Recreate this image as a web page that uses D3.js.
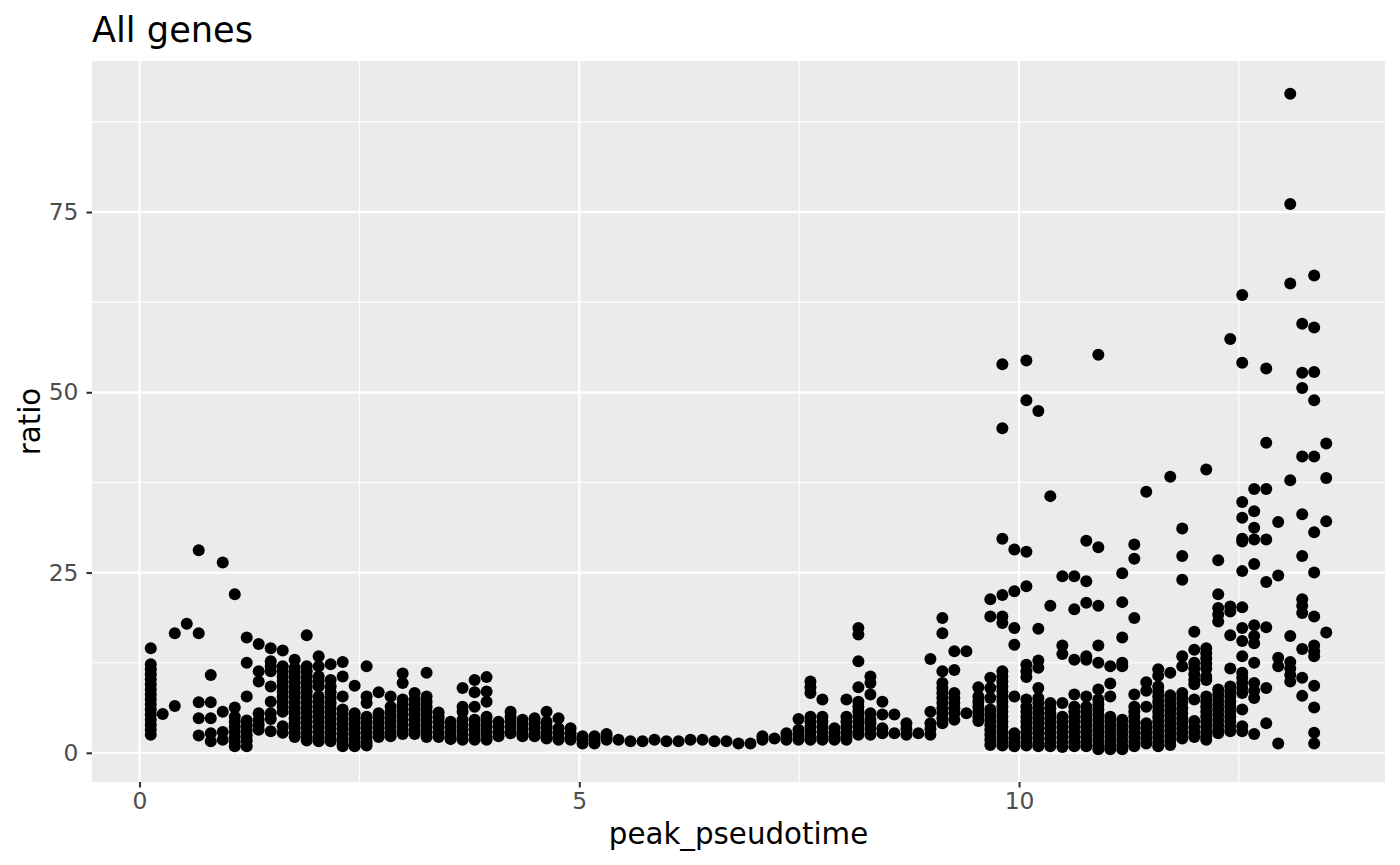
<!DOCTYPE html>
<html>
<head>
<meta charset="utf-8">
<script src="https://cdn.jsdelivr.net/npm/d3@7"></script>
<style>
  body { margin: 0; background: #ffffff; }
  svg { display: block; font-family: "DejaVu Sans", sans-serif; }
</style>
</head>
<body>
<div id="chart"></div>
<script>
// one x value per column of points (peak pseudotime bins)
var peakPseudotime = [
  0.128, 0.264, 0.401, 0.537, 0.673, 0.810, 0.946, 1.083, 1.219, 1.355,
  1.492, 1.628, 1.764, 1.901, 2.037, 2.173, 2.310, 2.446, 2.582, 2.719,
  2.855, 2.992, 3.128, 3.264, 3.401, 3.537, 3.673, 3.810, 3.946, 4.082,
  4.219, 4.355, 4.492, 4.628, 4.764, 4.901, 5.037, 5.173, 5.310, 5.446,
  5.582, 5.719, 5.855, 5.991, 6.128, 6.264, 6.401, 6.537, 6.673, 6.810,
  6.946, 7.082, 7.219, 7.355, 7.492, 7.628, 7.764, 7.901, 8.037, 8.173,
  8.310, 8.446, 8.582, 8.719, 8.855, 8.992, 9.128, 9.264, 9.401, 9.537,
  9.673, 9.810, 9.946, 10.083, 10.219, 10.355, 10.492, 10.628, 10.764, 10.901,
  11.037, 11.173, 11.310, 11.446, 11.582, 11.719, 11.855, 11.992, 12.128, 12.264,
  12.401, 12.537, 12.673, 12.810, 12.946, 13.083, 13.219, 13.355, 13.492
];

// ratio values for each column above (same order)
var ratios = [
  [14.5, 12.3, 11.6, 10.9, 10.2, 9.5, 8.8, 8.1, 7.4, 6.7, 6.0, 5.3, 4.6, 3.9, 3.2, 2.5],
  [5.4],
  [16.6, 6.5],
  [17.9],
  [28.1, 16.6, 7.0, 4.8, 2.4],
  [10.8, 7.0, 4.8, 2.7, 1.6],
  [26.4, 5.7, 2.9, 1.8],
  [22.0, 6.3, 5.0, 4.3, 3.6, 2.9, 2.2, 1.5, 0.9],
  [16.0, 12.5, 7.8, 4.5, 3.8, 3.1, 2.4, 1.7, 0.9],
  [15.1, 11.3, 9.9, 5.5, 4.6, 3.9, 3.2],
  [14.5, 12.7, 12.0, 11.3, 9.2, 7.1, 5.5, 4.7, 3.0],
  [14.2, 12.0, 11.3, 10.6, 9.9, 9.2, 8.5, 7.8, 7.1, 6.4, 5.7, 3.7, 2.8],
  [12.9, 11.8, 11.1, 10.4, 9.7, 9.0, 8.3, 7.6, 6.9, 6.2, 5.5, 4.8, 4.1, 3.4, 2.7, 2.2],
  [16.3, 12.0, 11.3, 10.6, 9.9, 9.2, 8.5, 7.8, 7.1, 6.4, 5.7, 5.0, 4.3, 3.6, 2.9, 2.2, 1.7],
  [13.4, 12.0, 10.6, 9.9, 9.2, 7.8, 7.1, 6.4, 5.7, 5.0, 4.3, 3.6, 2.9, 2.2, 1.6],
  [12.3, 10.1, 9.2, 8.4, 7.6, 6.9, 6.2, 5.5, 4.8, 4.1, 3.4, 2.7, 2.0, 1.6],
  [12.6, 10.6, 7.8, 6.0, 5.3, 4.6, 3.9, 3.2, 2.5, 1.8, 1.2, 0.9],
  [9.3, 5.5, 4.8, 4.1, 3.4, 2.7, 2.0, 1.4, 0.9],
  [12.0, 7.8, 6.9, 5.0, 4.3, 3.6, 2.9, 2.2, 1.5, 1.0],
  [8.4, 5.5, 4.8, 4.1, 3.4, 2.7, 2.2],
  [7.8, 6.4, 5.7, 5.0, 4.3, 3.6, 2.9, 2.3],
  [11.0, 9.7, 7.4, 6.7, 6.0, 5.3, 4.6, 3.9, 3.2, 2.6],
  [8.3, 7.4, 6.7, 6.0, 5.3, 4.6, 3.9, 3.2, 2.6],
  [11.1, 7.8, 7.1, 6.4, 5.7, 5.0, 4.3, 3.6, 2.9, 2.2],
  [5.6, 4.9, 4.2, 3.5, 2.8, 2.2],
  [4.3, 3.6, 2.9, 2.2, 1.9],
  [9.0, 6.4, 5.7, 4.6, 3.9, 3.2, 2.5, 1.8],
  [10.1, 8.4, 6.4, 4.6, 3.9, 3.2, 2.5, 1.8],
  [10.5, 8.5, 7.1, 5.0, 4.3, 3.6, 2.9, 2.2, 1.8],
  [4.3, 3.6, 2.9, 2.3],
  [5.7, 5.0, 4.3, 3.6, 2.9, 2.7],
  [4.6, 3.9, 3.2, 2.5, 2.3],
  [4.8, 4.1, 3.4, 2.7, 2.3],
  [5.7, 4.3, 3.6, 2.9, 2.2, 2.0],
  [4.8, 3.4, 2.7, 2.1, 1.8],
  [3.4, 2.7, 2.1, 1.8],
  [2.3, 1.8, 1.3],
  [2.3, 1.8, 1.3],
  [2.6, 2.2, 1.8],
  [1.8],
  [1.6],
  [1.6],
  [1.8],
  [1.6],
  [1.6],
  [1.8],
  [1.8],
  [1.6],
  [1.6],
  [1.3],
  [1.3],
  [2.3, 1.8],
  [2.0],
  [2.7, 2.2, 1.8],
  [4.7, 3.2, 2.5, 1.8],
  [9.9, 9.1, 8.3, 5.0, 4.3, 3.6, 2.9, 2.2, 1.8],
  [7.4, 5.0, 4.3, 3.6, 2.9, 2.2, 1.8],
  [3.4, 2.7, 2.2, 1.8],
  [7.4, 5.0, 4.3, 3.6, 2.9, 2.2, 1.8],
  [17.3, 16.4, 12.7, 9.1, 7.1, 6.4, 5.7, 5.0, 4.3, 3.6, 2.9, 2.5],
  [10.6, 9.7, 8.1, 5.5, 4.6, 4.1, 3.3, 2.5],
  [7.1, 5.3, 3.4, 2.7],
  [5.3, 2.7],
  [4.1, 3.3, 2.5],
  [2.7],
  [13.0, 5.7, 4.1, 3.3, 2.5],
  [18.7, 16.6, 11.3, 9.7, 9.0, 8.3, 7.6, 6.9, 6.2, 5.5, 4.8, 4.1],
  [14.1, 11.5, 8.3, 7.6, 6.9, 6.2, 5.5, 4.6],
  [14.1, 5.5],
  [9.1, 7.8, 7.1, 6.4, 5.7, 5.0, 4.4],
  [21.3, 18.9, 10.4, 9.0, 7.6, 6.0, 5.3, 4.6, 3.9, 3.2, 2.5, 1.8, 1.1],
  [53.9, 45.0, 29.7, 21.9, 18.9, 18.0, 11.3, 10.6, 9.9, 9.2, 8.5, 7.8, 7.1, 6.4, 5.7, 5.0, 4.3, 3.6, 2.9, 2.2, 1.5, 1.0],
  [28.2, 22.4, 17.3, 15.0, 7.8, 2.7, 2.0, 1.4, 0.9],
  [54.4, 48.9, 27.9, 23.1, 12.2, 11.3, 10.5, 7.4, 6.4, 5.7, 5.0, 4.3, 3.6, 2.9, 2.2, 1.5, 1.0],
  [47.4, 17.2, 12.8, 11.8, 9.0, 7.6, 6.9, 6.2, 5.5, 4.8, 4.1, 3.4, 2.7, 2.0, 1.3, 0.9],
  [35.6, 20.4, 6.9, 6.2, 5.5, 4.8, 4.1, 3.4, 2.7, 2.0, 1.3, 0.9],
  [24.5, 14.9, 13.7, 6.9, 5.0, 4.3, 3.6, 2.9, 2.2, 1.5, 0.8],
  [24.5, 19.9, 12.9, 8.1, 6.4, 5.7, 5.0, 4.3, 3.6, 2.9, 2.2, 1.5, 0.9],
  [29.4, 23.8, 20.8, 13.4, 12.9, 7.8, 6.4, 5.7, 5.0, 4.3, 3.6, 2.9, 2.2, 1.5, 0.9],
  [55.2, 28.5, 20.4, 14.9, 12.5, 8.8, 7.4, 6.7, 6.0, 5.3, 4.6, 3.9, 3.2, 2.5, 1.8, 1.1, 0.5],
  [12.0, 9.6, 7.8, 5.0, 4.3, 3.6, 2.9, 2.2, 1.5, 0.9, 0.5],
  [24.9, 20.9, 16.0, 12.5, 12.0, 4.6, 3.9, 3.2, 2.5, 1.8, 1.1, 0.5],
  [28.9, 26.9, 18.7, 8.1, 6.4, 5.7, 5.0, 4.3, 3.6, 2.9, 2.2, 1.5, 0.9],
  [36.2, 9.8, 8.6, 6.4, 4.1, 3.4, 2.7, 2.0, 1.3],
  [11.6, 10.7, 9.2, 8.5, 7.8, 7.1, 6.4, 5.7, 5.0, 4.3, 3.6, 2.9, 2.2, 1.5, 0.9],
  [38.3, 11.1, 8.0, 7.3, 6.6, 5.9, 5.2, 4.5, 3.8, 3.1, 2.4, 1.7, 1.1],
  [31.1, 27.3, 24.0, 13.4, 12.0, 8.3, 7.6, 6.9, 6.2, 5.5, 4.8, 4.1, 3.4, 2.7, 2.0],
  [16.8, 14.3, 12.5, 11.7, 10.9, 10.1, 9.5, 7.4, 4.4, 3.6, 2.9, 2.2],
  [39.3, 14.5, 13.8, 13.1, 12.4, 11.7, 10.6, 10.1, 7.8, 7.1, 6.4, 5.7, 5.0, 4.3, 3.6, 2.9, 2.3, 1.8],
  [26.7, 22.0, 20.1, 19.2, 18.2, 8.8, 8.1, 7.4, 6.7, 6.0, 5.3, 4.6, 3.9, 3.2, 2.7],
  [57.4, 20.3, 19.6, 16.3, 11.7, 9.2, 8.5, 7.8, 7.1, 6.4, 5.7, 5.0, 4.3, 3.6, 3.0],
  [63.5, 54.1, 34.8, 32.6, 29.7, 29.3, 25.2, 20.2, 17.3, 15.5, 13.4, 11.1, 10.4, 9.7, 9.0, 8.3, 6.0, 3.7, 3.0],
  [36.6, 33.5, 31.2, 29.6, 26.2, 17.7, 16.2, 15.2, 12.5, 9.7, 8.6, 7.6, 2.6],
  [53.3, 43.0, 36.6, 29.6, 23.7, 17.4, 9.0, 4.1],
  [32.0, 24.6, 13.2, 12.0, 1.3],
  [91.4, 76.1, 65.1, 37.8, 16.2, 12.6, 11.7, 10.8, 9.9],
  [59.5, 52.7, 50.6, 41.1, 33.1, 27.3, 21.3, 20.4, 19.4, 14.4, 10.4, 7.9],
  [66.2, 59.0, 52.8, 48.9, 41.1, 30.6, 25.0, 18.9, 14.9, 14.1, 13.4, 9.3, 6.3, 2.8, 1.3],
  [42.9, 38.1, 32.1, 16.7]
];

var xBreaks = [0, 5, 10];
var xMinorBreaks = [2.5, 7.5, 12.5];
var yBreaks = [0, 25, 50, 75];
var yMinorBreaks = [12.5, 37.5, 62.5, 87.5];

var chartTitle = "All genes";
var xTitle = "peak_pseudotime";
var yTitle = "ratio";

var W = 1400, H = 865;
var panel = { left: 92, right: 1385, top: 61, bottom: 782 };

// flatten columns into points
var points = [];
for (var i = 0; i < peakPseudotime.length; i++) {
  for (var j = 0; j < ratios[i].length; j++) {
    points.push({ peak_pseudotime: peakPseudotime[i], ratio: ratios[i][j] });
  }
}

// ggplot style 5% expansion on each side
function expand(ext) {
  var pad = (ext[1] - ext[0]) * 0.05;
  return [ext[0] - pad, ext[1] + pad];
}

var x = d3.scaleLinear()
  .domain(expand(d3.extent(points, function(d) { return d.peak_pseudotime; })))
  .range([panel.left, panel.right]);

var y = d3.scaleLinear()
  .domain(expand(d3.extent(points, function(d) { return d.ratio; })))
  .range([panel.bottom, panel.top]);

var svg = d3.select("#chart").append("svg")
  .attr("width", W)
  .attr("height", H);

// panel background
svg.append("rect")
  .attr("x", panel.left)
  .attr("y", panel.top)
  .attr("width", panel.right - panel.left)
  .attr("height", panel.bottom - panel.top)
  .attr("fill", "#EBEBEB");

var grid = svg.append("g").attr("stroke", "#FFFFFF").attr("fill", "none");

// minor grid
grid.selectAll(".xminor").data(xMinorBreaks).enter().append("line")
  .attr("x1", function(d) { return x(d); })
  .attr("x2", function(d) { return x(d); })
  .attr("y1", panel.top).attr("y2", panel.bottom)
  .attr("stroke-width", 1.1);

grid.selectAll(".yminor").data(yMinorBreaks).enter().append("line")
  .attr("y1", function(d) { return y(d); })
  .attr("y2", function(d) { return y(d); })
  .attr("x1", panel.left).attr("x2", panel.right)
  .attr("stroke-width", 1.1);

// major grid
grid.selectAll(".xmajor").data(xBreaks).enter().append("line")
  .attr("x1", function(d) { return x(d); })
  .attr("x2", function(d) { return x(d); })
  .attr("y1", panel.top).attr("y2", panel.bottom)
  .attr("stroke-width", 2.2);

grid.selectAll(".ymajor").data(yBreaks).enter().append("line")
  .attr("y1", function(d) { return y(d); })
  .attr("y2", function(d) { return y(d); })
  .attr("x1", panel.left).attr("x2", panel.right)
  .attr("stroke-width", 2.2);

// points
svg.append("g")
  .selectAll("circle")
  .data(points)
  .enter()
  .append("circle")
  .attr("cx", function(d) { return x(d.peak_pseudotime); })
  .attr("cy", function(d) { return y(d.ratio); })
  .attr("r", 6)
  .attr("fill", "#000000");

// axes, built with d3 axis then restyled like ggplot
var xAxis = svg.append("g")
  .attr("transform", "translate(0," + panel.bottom + ")")
  .call(d3.axisBottom(x).tickValues(xBreaks).tickSize(5.5).tickPadding(5).tickFormat(d3.format("d")));

var yAxis = svg.append("g")
  .attr("transform", "translate(" + panel.left + ",0)")
  .call(d3.axisLeft(y).tickValues(yBreaks).tickSize(5.5).tickPadding(8).tickFormat(d3.format("d")));

[xAxis, yAxis].forEach(function(ax) {
  ax.select(".domain").remove();
  ax.selectAll(".tick line").attr("stroke", "#333333").attr("stroke-width", 2.1);
  ax.selectAll(".tick text")
    .attr("fill", "#4D4D4D")
    .style("font-size", "23.4px")
    .style("font-family", "DejaVu Sans, sans-serif");
});

// titles
svg.append("text")
  .attr("x", panel.left)
  .attr("y", 42)
  .attr("fill", "#000000")
  .style("font-size", "35.2px")
  .text(chartTitle);

svg.append("text")
  .attr("x", (panel.left + panel.right) / 2)
  .attr("y", 844)
  .attr("text-anchor", "middle")
  .attr("fill", "#000000")
  .style("font-size", "29.3px")
  .text(xTitle);

svg.append("text")
  .attr("transform", "translate(40," + ((panel.top + panel.bottom) / 2) + ") rotate(-90)")
  .attr("text-anchor", "middle")
  .attr("fill", "#000000")
  .style("font-size", "29.3px")
  .text(yTitle);
</script>
</body>
</html>
